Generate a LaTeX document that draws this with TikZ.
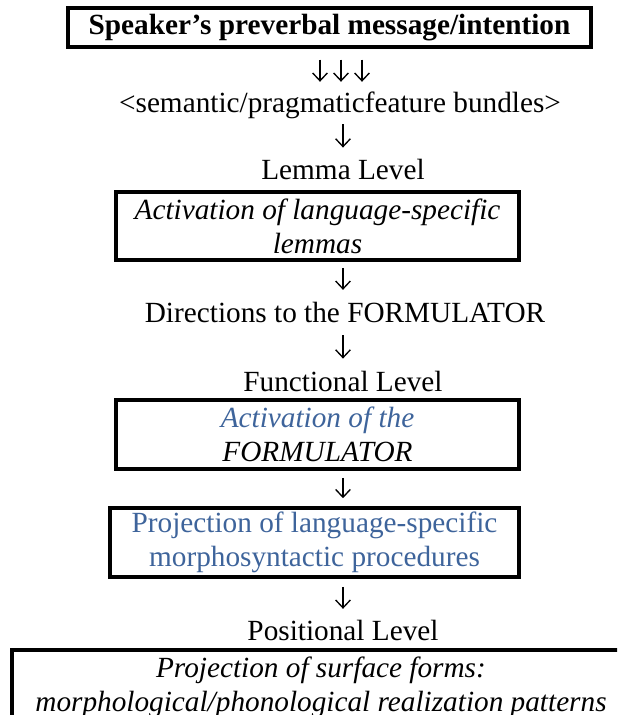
\documentclass[tikz,border=0pt]{standalone}
\usepackage{fontspec}
\setmainfont{Liberation Serif}
\usetikzlibrary{arrows.meta}
\definecolor{textblue}{RGB}{62,100,155}

\begin{document}
\begin{tikzpicture}[
  x=0.41pt,
  y=-0.41pt,
  font=\fontsize{12}{13.9}\selectfont,
  box/.style={draw=black,line width=1.4pt,inner sep=0pt,align=center},
  lvl/.style={inner sep=0pt,text height=8pt,text depth=0pt},
  down/.style={line width=0.55pt,-{Straight Barb[length=3.2pt,width=6pt]}}
]
\clip (0,0) rectangle (617,715);

% Boxes
\node[box,minimum width=214.4pt,minimum height=16pt,font=\fontsize{12}{13.9}\selectfont\bfseries] (msg) at (329.5,27.5) {Speaker’s preverbal message/intention};
\node[box,minimum width=165.2pt,minimum height=27.9pt,font=\fontsize{12}{13.9}\selectfont\itshape] (lemmas) at (317.5,226) {Activation of language-specific\\lemmas};
\node[box,minimum width=165.2pt,minimum height=28.3pt,font=\fontsize{12}{13.9}\selectfont\itshape] (formulator) at (317.5,434.5) {{\color{textblue}Activation of the}\\FORMULATOR};
\node[box,minimum width=167.7pt,minimum height=28.3pt,text=textblue] (procedures) at (314.5,542.5) {Projection of language-specific\\morphosyntactic procedures};
\node[box,minimum width=253.4pt,minimum height=30.8pt,font=\fontsize{12}{13.9}\selectfont\itshape] (surface) at (321,687.5) {Projection of surface forms:\\morphological/phonological realization patterns};

% Level labels
\node[lvl] (bundles) at (340,103) {<semantic/pragmaticfeature bundles>};
\node[lvl] (lemmalvl) at (343,170) {Lemma Level};
\node[lvl] (directions) at (345,313) {Directions to the FORMULATOR};
\node[lvl] (funclvl) at (343,382) {Functional Level};
\node[lvl] (poslvl) at (343,631) {Positional Level};

% Arrows
\coordinate (col) at (343,0);
\foreach \dx/\i in {-21/1,0/2,21/3}
  \coordinate (t\i) at (341+\dx,0);
\foreach \i in {1,2,3}
  \draw[down,shorten <=4.5pt,shorten >=4.5pt] (msg.south -| t\i) -- (bundles.north -| t\i);
\draw[down,shorten <=4.6pt,shorten >=5pt] (bundles.south -| col) -- (lemmalvl.north -| col);
\draw[down,shorten <=2.5pt,shorten >=5.3pt] (lemmas.south -| col) -- (directions.north -| col);
\draw[down,shorten <=5pt,shorten >=5.4pt] (directions.south -| col) -- (funclvl.north -| col);
\draw[down,shorten <=2.9pt,shorten >=3.3pt] (formulator.south -| col) -- (procedures.north -| col);
\draw[down,shorten <=3.3pt,shorten >=4.9pt] (procedures.south -| col) -- (poslvl.north -| col);

\end{tikzpicture}
\end{document}
